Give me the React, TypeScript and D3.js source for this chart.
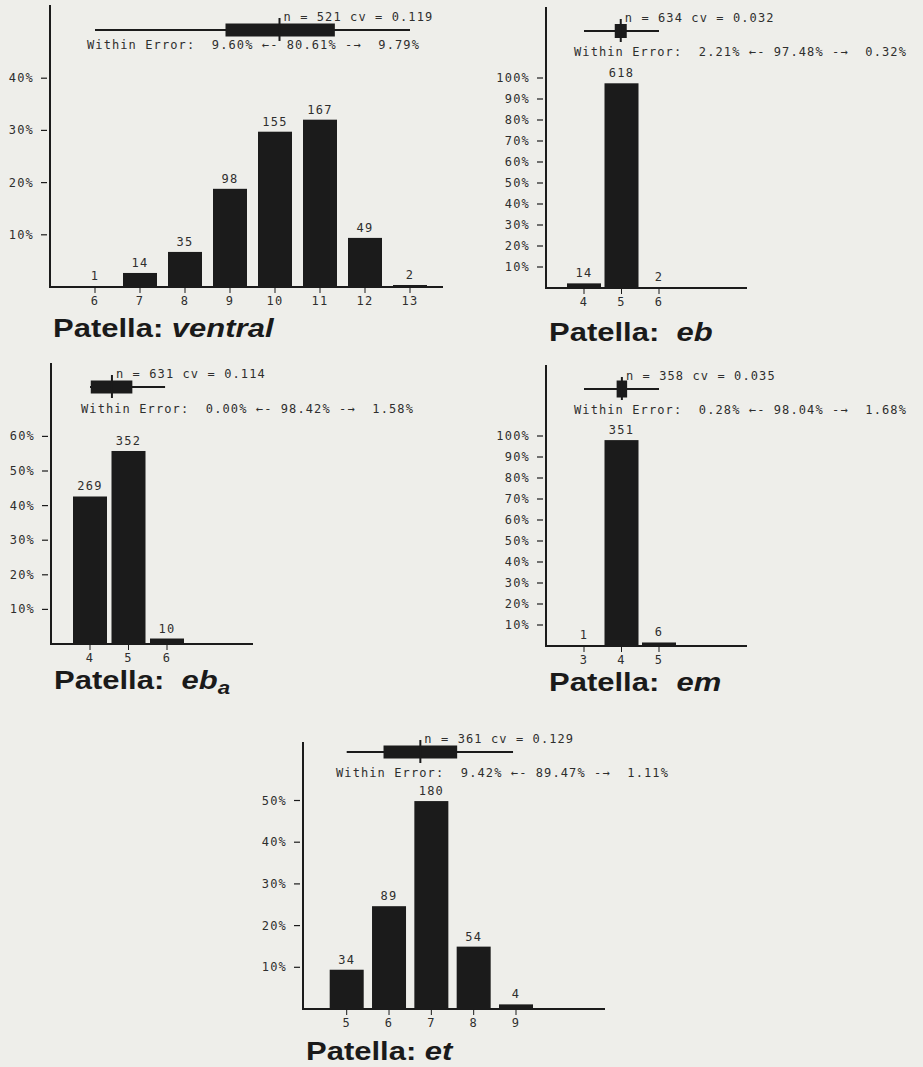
import React from "react";
import * as d3 from "d3";

// ---------------- data ----------------
const panelKeys = ["ventral", "eb", "eb_a", "em", "et"];
const ventralCats = [6, 7, 8, 9, 10, 11, 12, 13];
const ventralCounts = [1, 14, 35, 98, 155, 167, 49, 2];
const ebCats = [4, 5, 6];
const ebCounts = [14, 618, 2];
const ebaCats = [4, 5, 6];
const ebaCounts = [269, 352, 10];
const emCats = [3, 4, 5];
const emCounts = [1, 351, 6];
const etCats = [5, 6, 7, 8, 9];
const etCounts = [34, 89, 180, 54, 4];

const nValues = [521, 634, 631, 358, 361];
const cvValues = ["0.119", "0.032", "0.114", "0.035", "0.129"];
const statSep = ["  ", " ", "  ", " ", "  "];
const withinLow = ["9.60%", "2.21%", "0.00%", "0.28%", "9.42%"];
const withinMid = ["80.61%", "97.48%", "98.42%", "98.04%", "89.47%"];
const withinHigh = ["9.79%", "0.32%", "1.58%", "1.68%", "1.11%"];
const yTickMaxPct = [40, 100, 60, 100, 50];

// box summary read from the header glyphs (category units)
const whiskerLo = [6, 4, 4, 3, 5];
const whiskerHi = [13, 6, 5.95, 5, 8.93];
const boxLo = [8.9, 4.82, 4.02, 3.87, 5.87];
const boxHi = [11.33, 5.14, 5.1, 4.15, 7.61];
const meanVals = [10.1, 4.98, 4.57, 4.01, 6.74];

const titleMain = ["ventral", "eb", "eb", "em", "et"];
const titleSub = ["", "", "a", "", ""];
const titleGap = [" ", "  ", "  ", "  ", " "];

const catsList = [ventralCats, ebCats, ebaCats, emCats, etCats];
const countsList = [ventralCounts, ebCounts, ebaCounts, emCounts, etCounts];

// ---------------- layout ----------------
const layouts = [
  { axisX: 50, axisTop: 5, baseY: 287, xEnd: 443, x0: 95, x1: 410, px10: 52.2, boxH: 6.5, weDy: 19, weX: 87, titleY: 337 },
  { axisX: 546, axisTop: 7, baseY: 288, xEnd: 747, x0: 584, x1: 659, px10: 21, boxH: 7, weDy: 25, weX: 574, titleY: 341 },
  { axisX: 51, axisTop: 363, baseY: 644, xEnd: 253, x0: 90, x1: 167, px10: 34.6, boxH: 6.5, weDy: 26, weX: 81, titleY: 689 },
  { axisX: 546, axisTop: 365, baseY: 646, xEnd: 747, x0: 584, x1: 659, px10: 21, boxH: 8.5, weDy: 25, weX: 574, titleY: 691 },
  { axisX: 303, axisTop: 742, baseY: 1009, xEnd: 605, x0: 346.7, x1: 516, px10: 41.7, boxH: 6.5, weDy: 25, weX: 336, titleY: 1060 },
];

const INK = "#1b1b1b";
const TXT = "#2e2e2e";
const MONO = "'DejaVu Sans Mono', 'Liberation Mono', monospace";
const SANS = "'Liberation Sans', Arial, Helvetica, sans-serif";
const BAR_W = 34;

function Panel({ idx }: { idx: number }) {
  const L = layouts[idx];
  const cats = catsList[idx];
  const counts = countsList[idx];
  const n = nValues[idx];
  const x = d3.scaleLinear().domain([cats[0], cats[cats.length - 1]]).range([L.x0, L.x1]);
  const y = d3.scaleLinear().domain([0, 100]).range([L.baseY, L.baseY - L.px10 * 10]);
  const yTicks = d3.range(10, yTickMaxPct[idx] + 1, 10);
  const wY = L.baseY - 257;
  const mX = x(meanVals[idx]);
  const textStyle = { fontFamily: MONO, fontSize: 12, letterSpacing: "1.1px", fill: TXT } as const;
  const smallStyle = { ...textStyle, letterSpacing: "1.2px" };

  return (
    <g>
      {/* y axis */}
      <line x1={L.axisX} x2={L.axisX} y1={L.axisTop} y2={L.baseY + 1} stroke={INK} strokeWidth={2} />
      {/* x axis */}
      <line x1={L.axisX - 1} x2={L.xEnd} y1={L.baseY} y2={L.baseY} stroke={INK} strokeWidth={2} />
      {/* y ticks */}
      {yTicks.map((t) => (
        <g key={"yt" + t}>
          <line x1={L.axisX - 9} x2={L.axisX - 3} y1={y(t)} y2={y(t)} stroke={INK} strokeWidth={1.2} />
          <text x={L.axisX - 16} y={y(t) + 4} textAnchor="end" style={smallStyle}>
            {t + "%"}
          </text>
        </g>
      ))}
      {/* bars */}
      {cats.map((c, i) => {
        const pct = (counts[i] / n) * 100;
        const top = y(pct);
        return (
          <g key={"b" + c}>
            <rect
              x={x(c) - BAR_W / 2}
              y={top}
              width={BAR_W}
              height={Math.max(L.baseY - top, 1)}
              fill={INK}
            />
            <text x={x(c)} y={top - 6} textAnchor="middle" style={smallStyle}>
              {counts[i]}
            </text>
            <line x1={x(c)} x2={x(c)} y1={L.baseY} y2={L.baseY + 6} stroke={INK} strokeWidth={1} />
            <text x={x(c)} y={L.baseY + 18} textAnchor="middle" style={smallStyle}>
              {c}
            </text>
          </g>
        );
      })}
      {/* header box summary */}
      <line x1={x(whiskerLo[idx])} x2={x(whiskerHi[idx])} y1={wY} y2={wY} stroke={INK} strokeWidth={2} />
      <rect
        x={x(boxLo[idx])}
        y={wY - L.boxH}
        width={x(boxHi[idx]) - x(boxLo[idx])}
        height={L.boxH * 2}
        fill={INK}
      />
      <line x1={mX} x2={mX} y1={wY - 12} y2={wY + 11} stroke={INK} strokeWidth={2} />
      <text x={mX + 4} y={wY - 9} style={textStyle}>
        {`n = ${n}${statSep[idx]}cv = ${cvValues[idx]}`}
      </text>
      <text x={L.weX} y={wY + L.weDy} style={textStyle} xmlSpace="preserve">
        {`Within Error:  ${withinLow[idx]} \u2190- ${withinMid[idx]} -\u2192  ${withinHigh[idx]}`}
      </text>
      {/* title */}
      <text
        transform={`translate(${L.axisX + 3},${L.titleY}) scale(1.24,1)`}
        style={{ fontFamily: SANS, fontSize: 25, fontWeight: 700, fill: "#1a1a1a" }}
        xmlSpace="preserve"
      >
        <tspan>{"Patella:" + titleGap[idx]}</tspan>
        <tspan fontStyle="italic">{titleMain[idx]}</tspan>
        {titleSub[idx] ? (
          <tspan fontStyle="italic" fontSize={18} dy={5}>
            {titleSub[idx]}
          </tspan>
        ) : null}
      </text>
    </g>
  );
}

export default function App() {
  return (
    <svg
      width={923}
      height={1067}
      style={{ position: "absolute", left: 0, top: 0, display: "block" }}
      data-panels={panelKeys.join(",")}
    >
      <rect x={0} y={0} width={923} height={1067} fill="#eeeeea" />
      {panelKeys.map((k, i) => (
        <Panel key={k} idx={i} />
      ))}
    </svg>
  );
}
